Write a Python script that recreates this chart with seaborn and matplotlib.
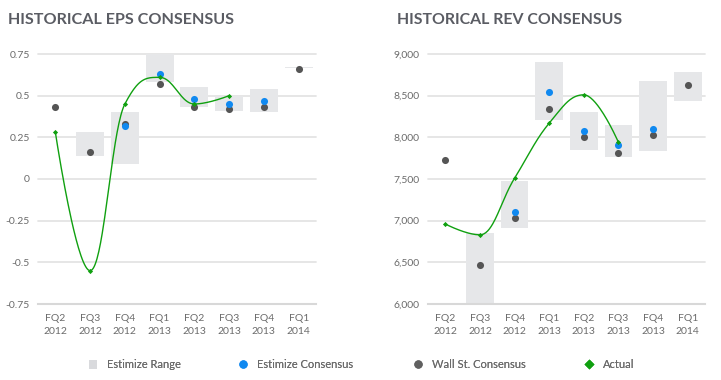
import numpy as np
import pandas as pd
import seaborn as sns
import matplotlib
matplotlib.use("Agg")
import matplotlib.pyplot as plt
from matplotlib.lines import Line2D
from matplotlib.patches import Patch
from matplotlib.ticker import FuncFormatter

nan = np.nan
quarters = ["FQ2\n2012", "FQ3\n2012", "FQ4\n2012", "FQ1\n2013",
            "FQ2\n2013", "FQ3\n2013", "FQ4\n2013", "FQ1\n2014"]

eps_range_low = [nan, 0.14, 0.09, 0.58, 0.43, 0.41, 0.40, 0.665]
eps_range_high = [nan, 0.28, 0.40, 0.76, 0.55, 0.50, 0.54, 0.672]
eps_estimize = [nan, nan, 0.32, 0.63, 0.48, 0.45, 0.47, nan]
eps_wallst = [0.43, 0.16, 0.33, 0.57, 0.43, 0.42, 0.43, 0.66]
eps_actual = [0.28, -0.55, 0.45, 0.61, 0.45, 0.50, nan, nan]
eps_ticks = [-0.75, -0.5, -0.25, 0, 0.25, 0.5, 0.75]

rev_range_low = [nan, 5950, 6915, 8210, 7850, 7770, 7840, 8440]
rev_range_high = [nan, 6850, 7475, 8900, 8300, 8150, 8680, 8780]
rev_estimize = [nan, nan, 7100, 8550, 8080, 7910, 8100, nan]
rev_wallst = [7730, 6470, 7030, 8340, 8010, 7810, 8030, 8630]
rev_actual = [6960, 6830, 7510, 8170, 8510, 7940, nan, nan]
rev_ticks = [6000, 6500, 7000, 7500, 8000, 8500, 9000]

titles = ["HISTORICAL EPS CONSENSUS", "HISTORICAL REV CONSENSUS"]
legend_labels = ["Estimize Range", "Estimize Consensus", "Wall St. Consensus", "Actual"]

C_RANGE = "#e6e7e9"
C_EST = "#1089f0"
C_WALL = "#555555"
C_ACT = "#10a010"
C_TEXT = "#6b6b6b"
C_GRID = "#e4e4e4"

sns.set_theme(style="white")
plt.rcParams["font.family"] = ["Lato", "DejaVu Sans"]


def hc_spline(xs, ys, smoothing=1.5, n=40):
    """Highcharts-style spline through the points, returns dense curve."""
    xs = list(xs); ys = list(ys)
    m = len(xs)
    d = smoothing + 1
    lc = [(x, y) for x, y in zip(xs, ys)]
    rc = [(x, y) for x, y in zip(xs, ys)]
    for i in range(1, m - 1):
        x, y = xs[i], ys[i]
        lx, ly = xs[i - 1], ys[i - 1]
        nx, ny = xs[i + 1], ys[i + 1]
        lcx = (smoothing * x + lx) / d
        lcy = (smoothing * y + ly) / d
        rcx = (smoothing * x + nx) / d
        rcy = (smoothing * y + ny) / d
        if rcx != lcx:
            corr = ((rcy - lcy) * (rcx - x)) / (rcx - lcx) + y - rcy
            lcy += corr
            rcy += corr
        if lcy > ly and lcy > y:
            lcy = max(ly, y); rcy = 2 * y - lcy
        elif lcy < ly and lcy < y:
            lcy = min(ly, y); rcy = 2 * y - lcy
        if rcy > ny and rcy > y:
            rcy = max(ny, y); lcy = 2 * y - rcy
        elif rcy < ny and rcy < y:
            rcy = min(ny, y); lcy = 2 * y - rcy
        lc[i] = (lcx, lcy)
        rc[i] = (rcx, rcy)
    cx, cy = [xs[0]], [ys[0]]
    t = np.linspace(0, 1, n)[1:]
    for i in range(1, m):
        p0 = np.array([xs[i - 1], ys[i - 1]])
        p1 = np.array(rc[i - 1])
        p2 = np.array(lc[i])
        p3 = np.array([xs[i], ys[i]])
        pts = ((1 - t) ** 3)[:, None] * p0 + (3 * (1 - t) ** 2 * t)[:, None] * p1 \
            + (3 * (1 - t) * t ** 2)[:, None] * p2 + (t ** 3)[:, None] * p3
        cx.extend(pts[:, 0]); cy.extend(pts[:, 1])
    return np.array(cx), np.array(cy)


def draw(ax, low, high, est, wall, act, ticks, fmt):
    x = np.arange(len(quarters))
    low = np.array(low, float); high = np.array(high, float)
    ok = ~np.isnan(low)
    ax.bar(x[ok], high[ok] - low[ok], bottom=low[ok], width=0.8,
           color=C_RANGE, zorder=1, linewidth=0)
    df = pd.DataFrame({"x": x, "est": est, "wall": wall, "act": act})
    sns.scatterplot(data=df, x="x", y="wall", ax=ax, color=C_WALL, s=26,
                    linewidth=0, zorder=3, legend=False)
    sns.scatterplot(data=df, x="x", y="est", ax=ax, color=C_EST, s=26,
                    linewidth=0, zorder=4, legend=False)
    a = df.dropna(subset=["act"])
    cx, cy = hc_spline(a["x"].values, a["act"].values)
    curve = pd.DataFrame({"x": cx, "y": cy})
    sns.lineplot(data=curve, x="x", y="y", ax=ax, color=C_ACT, lw=1.0,
                 sort=False, estimator=None, zorder=5, legend=False)
    sns.scatterplot(data=a, x="x", y="act", ax=ax, color=C_ACT, marker="D",
                    s=7, linewidth=0, zorder=6, legend=False)
    ax.set_xlim(-0.5, len(quarters) - 0.5)
    ax.set_ylim(ticks[0], ticks[-1])
    ax.set_yticks(ticks)
    ax.yaxis.set_major_formatter(FuncFormatter(fmt))
    ax.set_xticks(x)
    ax.set_xticklabels(quarters, linespacing=1.55)
    ax.set_xlabel(""); ax.set_ylabel("")
    ax.tick_params(axis="both", length=0, labelsize=7.5, labelcolor=C_TEXT)
    ax.tick_params(axis="x", pad=7)
    ax.tick_params(axis="y", pad=6)
    ax.grid(axis="y", color=C_GRID, lw=1.3)
    ax.grid(axis="x", visible=False)
    for gl in ax.get_ygridlines():
        gl.set_clip_on(False)
    for s in ["top", "right", "left"]:
        ax.spines[s].set_visible(False)
    ax.spines["bottom"].set_color("#d8d8d8")
    ax.spines["bottom"].set_linewidth(1.5)
    ax.set_axisbelow(True)


W, H = 721, 380
fig = plt.figure(figsize=(W / 100, H / 100), dpi=100)
ax1 = fig.add_axes([38 / W, 1 - 304 / H, 278 / W, 250 / H])
ax2 = fig.add_axes([428 / W, 1 - 304 / H, 277 / W, 250 / H])

draw(ax1, eps_range_low, eps_range_high, eps_estimize, eps_wallst, eps_actual,
     eps_ticks, lambda v, p: f"{v:g}")
draw(ax2, rev_range_low, rev_range_high, rev_estimize, rev_wallst, rev_actual,
     rev_ticks, lambda v, p: f"{v:,.0f}")

# titles, fitted to the reference width (~226 px)
renderer = fig.canvas.get_renderer()
for tx, title in zip([8, 397], titles):
    t = fig.text(tx / W, 1 - 20 / H, title, fontsize=12, fontweight="bold",
                 color="#5a5c63", va="center", ha="left")
    w = t.get_window_extent(renderer).width
    t.set_fontsize(12 * 226 / w)

handles = [
    Patch(facecolor="#d9dadd", edgecolor="none", label=legend_labels[0]),
    Line2D([], [], ls="none", marker="o", ms=6, mfc=C_EST, mec="none",
           label=legend_labels[1]),
    Line2D([], [], ls="none", marker="o", ms=6, mfc="#606060", mec="none",
           label=legend_labels[2]),
    Line2D([], [], ls="none", marker="D", ms=5.5, mfc=C_ACT, mec="none",
           label=legend_labels[3]),
]
marker_x = [93, 243, 418, 589]
hl = 0.8  # handle length in font-size units
fs = 8
for h, mx in zip(handles, marker_x):
    half = hl * fs / 72 * 100 / 2
    lg = fig.legend(handles=[h], loc="center left",
                    bbox_to_anchor=((mx - half) / W, 1 - 365 / H),
                    frameon=False, fontsize=fs, labelcolor=C_TEXT,
                    handlelength=hl, handleheight=0.9, handletextpad=0.9,
                    borderpad=0, borderaxespad=0)
    fig.add_artist(lg)

fig.savefig("out.png", dpi=100)
